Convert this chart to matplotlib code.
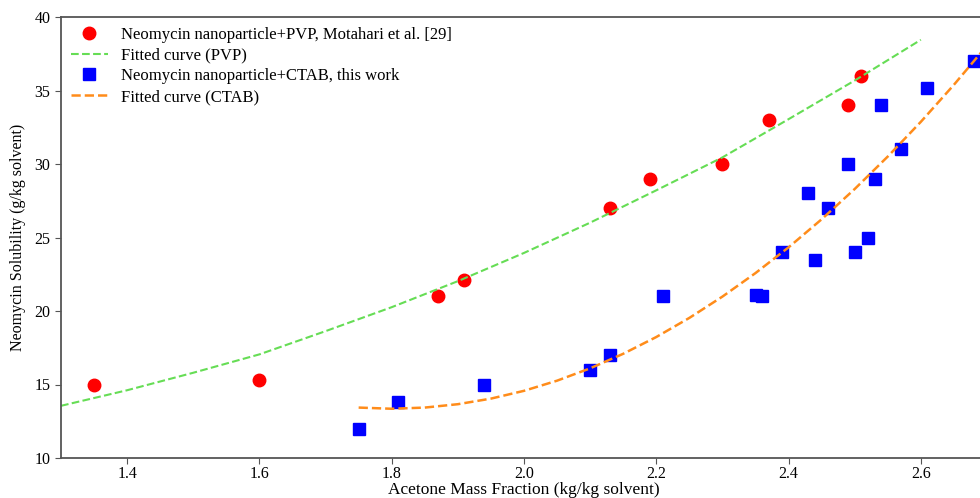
import numpy as np
import matplotlib
matplotlib.use("Agg")
import matplotlib.pyplot as plt

plt.rcParams['font.family'] = ['Liberation Serif', 'DejaVu Serif']

# measured solubility, PVP (literature)
pvp_x = [1.35, 1.60, 1.87, 1.91, 2.13, 2.19, 2.30, 2.37, 2.49, 2.51]
pvp_y = [15.0, 15.3, 21.0, 22.1, 27.0, 29.0, 30.0, 33.0, 34.0, 36.0]

# measured solubility, CTAB
ctab_x = [1.75, 1.81, 1.94, 2.10, 2.13, 2.21, 2.35, 2.36, 2.39, 2.43,
          2.44, 2.46, 2.49, 2.50, 2.52, 2.53, 2.54, 2.57, 2.61, 2.68]
ctab_y = [12.0, 13.8, 15.0, 16.0, 17.0, 21.0, 21.1, 21.0, 24.0, 28.0,
          23.5, 27.0, 30.0, 24.0, 25.0, 29.0, 34.0, 31.0, 35.2, 37.0]

# fitted curves
fit_pvp_x = [1.30, 1.40, 1.50, 1.60, 1.70, 1.80, 1.90, 2.00, 2.10, 2.20,
             2.30, 2.40, 2.50, 2.60]
fit_pvp_y = [13.55, 14.61, 15.80, 17.05, 18.63, 20.26, 22.03, 23.95, 26.01,
             28.21, 30.45, 33.05, 35.68, 38.45]

fit_ctab_x = [1.75, 1.80, 1.85, 1.90, 1.95, 2.00, 2.05, 2.10, 2.15, 2.20,
              2.25, 2.30, 2.35, 2.40, 2.45, 2.50, 2.55, 2.60, 2.65, 2.70]
fit_ctab_y = [13.43, 13.35, 13.43, 13.66, 14.04, 14.57, 15.26, 16.10, 17.09,
              18.23, 19.53, 20.98, 22.58, 24.33, 26.24, 28.30, 30.51, 32.87,
              35.39, 38.06]

fig = plt.figure(figsize=(9.8, 4.98), dpi=100)
ax = fig.add_axes([61/980, 40/498, 926/980, 441/498])

ax.plot(pvp_x, pvp_y, 'o', color='red', markersize=9,
        label='Neomycin nanoparticle+PVP, Motahari et al. [29]')
ax.plot(fit_pvp_x, fit_pvp_y, '--', color='#66dd55', linewidth=1.5,
        label='Fitted curve (PVP)')
ax.plot(ctab_x, ctab_y, 's', color='blue', markersize=8,
        label='Neomycin nanoparticle+CTAB, this work')
ax.plot(fit_ctab_x, fit_ctab_y, '--', color='#ff8c1a', linewidth=1.8,
        label='Fitted curve (CTAB)')

ax.set_xlim(1.3, 2.7)
ax.set_ylim(10, 40)
ax.set_xticks([1.4, 1.6, 1.8, 2.0, 2.2, 2.4, 2.6])
ax.set_yticks([10, 15, 20, 25, 30, 35, 40])
ax.tick_params(labelsize=11.5, color='#555555', length=4)
ax.tick_params(axis='x', pad=2)

for s in ax.spines.values():
    s.set_color('#555555')
    s.set_linewidth(1.3)
ax.spines['right'].set_visible(False)

ax.set_xlabel('Acetone Mass Fraction (kg/kg solvent)', fontsize=12.5, labelpad=0)
ax.set_ylabel('Neomycin Solubility (g/kg solvent)', fontsize=11.5, labelpad=6)

ax.legend(loc='upper left', frameon=False, fontsize=12,
          handlelength=2.2, borderaxespad=0.3, labelspacing=0.28,
          borderpad=0.3)

fig.savefig('out.png', dpi=100)
